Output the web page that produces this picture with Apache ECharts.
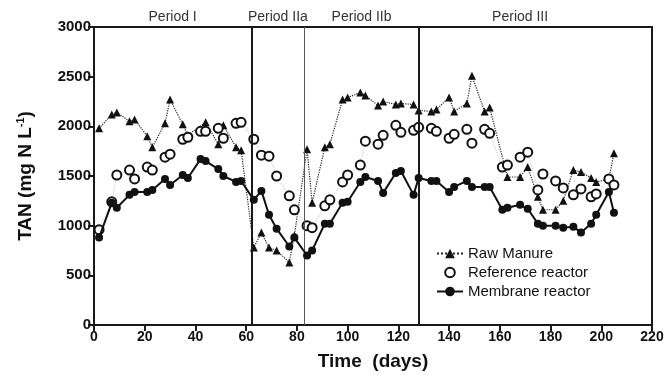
<!DOCTYPE html>
<html>
<head>
    <meta charset="UTF-8">
    <title>TAN</title>
    <script src="https://cdn.jsdelivr.net/npm/echarts/dist/echarts.min.js"></script>
    <style>
        html, body { margin: 0; padding: 0; background: #fff; }
        #main { width: 667px; height: 376px; }
    </style>
</head>
<body>
<div id="main"></div>
<script>
    // sampling days
    var days = [2, 7, 9, 14, 16, 21, 23, 28, 30, 35, 37, 42, 44, 49, 51, 56, 58, 63, 66, 69,
        72, 77, 79, 84, 86, 91, 93, 98, 100, 105, 107, 112, 114, 119, 121, 126, 128, 133, 135, 140,
        142, 147, 149, 154, 156, 161, 163, 168, 171, 175, 177, 182, 185, 189, 192, 196, 198, 203, 205];

    // TAN values, mg N/L (null = no point)
    var rawManure = [1980, 2120, 2140, 2050, 2070, 1900, 1790, 2030, 2270, 2020, 1910, null, 2040, 1820, 2010, 1790, 1760, 780, 930, 780,
        750, 630, 900, 1770, 1230, 1790, 1820, 2270, 2290, 2340, 2310, 2210, 2250, 2220, 2230, 2220, 2160, 2150, 2170, 2290,
        2150, 2230, 2510, 2150, 2190, null, 1490, 1490, 1590, 1290, 1160, 1160, 1250, 1560, 1540, 1480, 1440, 1470, 1730];

    var referenceReactor = [960, 1240, 1510, 1560, 1470, 1590, 1560, 1690, 1720, 1870, 1890, 1950, 1950, 1980, 1880, 2030, 2040, 1870, 1710, 1700,
        1500, 1300, 1160, 1000, 980, 1200, 1260, 1440, 1510, 1610, 1850, 1820, 1910, 2010, 1940, 1960, 1990, 1980, 1950, 1880,
        1920, 1970, 1830, 1970, 1930, 1590, 1610, 1690, 1740, 1360, 1520, 1450, 1380, 1310, 1370, 1290, 1320, 1470, 1410];

    var membraneReactor = [880, 1230, 1180, 1310, 1340, 1340, 1360, 1470, 1410, 1510, 1480, 1670, 1650, 1570, 1500, 1440, 1450, 1260, 1350, 1110,
        970, 790, 880, 700, 750, 1020, 1020, 1230, 1240, 1440, 1490, 1450, 1330, 1530, 1550, 1310, 1480, 1450, 1450, 1340,
        1390, 1450, 1390, 1390, 1390, 1160, 1180, 1210, 1170, 1020, 1000, 1000, 980, 990, 930, 1020, 1110, 1340, 1130];

    // period boundaries and labels
    var periodLines = [62, 83, 128];
    var periodNames = ['Period I', 'Period IIa', 'Period IIb', 'Period III'];
    var periodStart = [0, 62, 83, 128];
    var periodEnd = [62, 83, 128, 208];

    var xTicks = {min: 0, max: 220, interval: 20};
    var yTicks = {min: 0, max: 3000, interval: 500};

    function pairs(vals) {
        var out = [];
        for (var i = 0; i < days.length; i++) {
            if (vals[i] !== null) out.push([days[i], vals[i]]);
        }
        return out;
    }

    var font = '"Liberation Sans", Arial, Helvetica, sans-serif';

    var areas = [];
    for (var i = 0; i < periodNames.length; i++) {
        areas.push([{xAxis: periodStart[i], name: periodNames[i]}, {xAxis: periodEnd[i]}]);
    }

    var lines = periodLines.map(function (d, i) {
        return {
            xAxis: d,
            lineStyle: {color: i === 1 ? '#555' : '#1a1a1a', width: i === 1 ? 1 : 2, type: 'solid'}
        };
    });

    var myChart = echarts.init(document.getElementById('main'));
    var option = {
        animation: false,
        backgroundColor: '#fff',
        textStyle: {fontFamily: font},
        grid: {
            left: 94, right: 15, top: 27, bottom: 49,
            show: true, borderColor: '#1a1a1a', borderWidth: 2
        },
        legend: {
            orient: 'vertical',
            left: 431, top: 241,
            itemWidth: 26, itemHeight: 12, itemGap: 4,
            textStyle: {fontSize: 15, color: '#111', fontFamily: font},
            data: [
                'Raw Manure',
                {name: 'Reference reactor', lineStyle: {opacity: 0}},
                'Membrane reactor'
            ]
        },
        xAxis: {
            type: 'value',
            min: xTicks.min, max: xTicks.max, interval: xTicks.interval,
            name: 'Time  (days)',
            nameLocation: 'middle',
            nameGap: 27,
            nameTextStyle: {fontSize: 19, fontWeight: 'bold', color: '#111', fontFamily: font},
            axisLine: {lineStyle: {color: '#1a1a1a', width: 2}},
            axisTick: {length: 6, lineStyle: {color: '#1a1a1a', width: 2}},
            axisLabel: {fontSize: 14, fontWeight: 'bold', color: '#111', margin: 5, fontFamily: font},
            splitLine: {show: false}
        },
        yAxis: {
            type: 'value',
            min: yTicks.min, max: yTicks.max, interval: yTicks.interval,
            name: 'TAN (mg N L{sup|-1})',
            nameLocation: 'middle',
            nameRotate: 90,
            nameGap: 58,
            nameTextStyle: {
                fontSize: 19, fontWeight: 'bold', color: '#111', fontFamily: font,
                rich: {sup: {fontSize: 11, fontWeight: 'bold', color: '#111', verticalAlign: 'top', padding: [0, 0, 10, 0]}}
            },
            axisLine: {show: true, lineStyle: {color: '#1a1a1a', width: 2}},
            axisTick: {show: true, length: 6, lineStyle: {color: '#1a1a1a', width: 2}},
            axisLabel: {
                fontSize: 15, fontWeight: 'bold', color: '#111', margin: 3, fontFamily: font,
                formatter: function (v) { return String(v); }
            },
            splitLine: {show: false}
        },
        series: [
            {
                name: 'Raw Manure',
                type: 'line',
                data: pairs(rawManure),
                symbol: 'triangle',
                symbolSize: 8,
                itemStyle: {color: '#111'},
                lineStyle: {color: '#222', width: 1.2, type: 'dotted'},
                z: 3
            },
            {
                name: 'Reference reactor',
                type: 'line',
                data: pairs(referenceReactor),
                symbol: 'emptyCircle',
                symbolSize: 9,
                itemStyle: {color: '#111', borderWidth: 1.6, borderColor: '#111'},
                lineStyle: {color: '#c8c8c8', width: 1, type: 'dotted'},
                z: 4
            },
            {
                name: 'Membrane reactor',
                type: 'line',
                data: pairs(membraneReactor),
                symbol: 'circle',
                symbolSize: 8,
                itemStyle: {color: '#111'},
                lineStyle: {color: '#111', width: 2},
                z: 5,
                markLine: {
                    silent: true,
                    symbol: 'none',
                    label: {show: false},
                    data: lines
                },
                markArea: {
                    silent: true,
                    itemStyle: {color: 'rgba(0,0,0,0)'},
                    label: {
                        show: true, position: 'top', distance: 3,
                        fontSize: 14, color: '#333', fontFamily: font
                    },
                    data: areas
                }
            }
        ]
    };
    myChart.setOption(option);
</script>
</body>
</html>
